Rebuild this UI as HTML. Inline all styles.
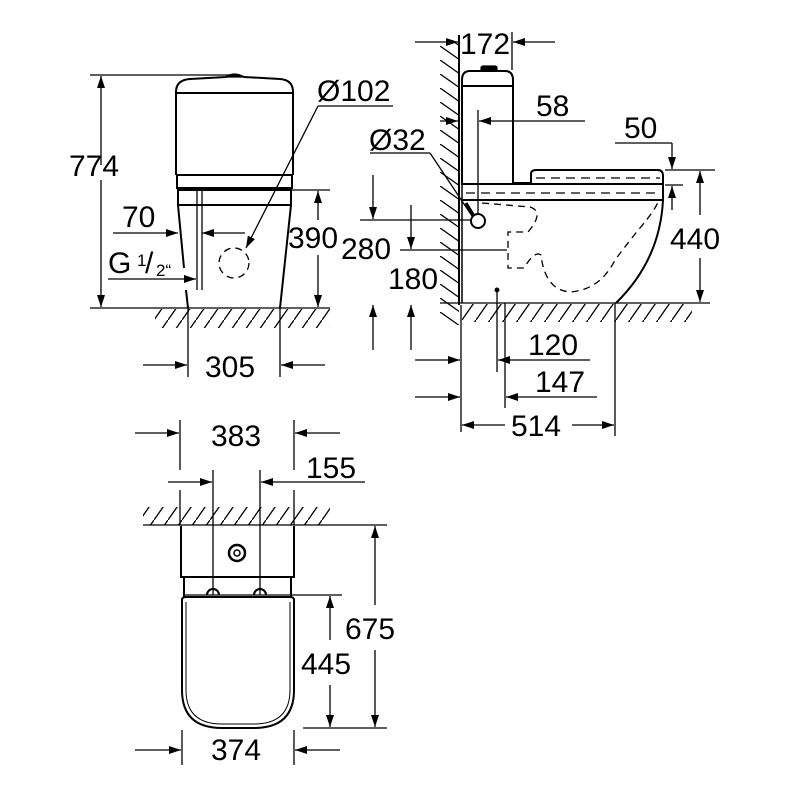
<!DOCTYPE html>
<html><head><meta charset="utf-8"><style>
html,body{margin:0;padding:0;background:#fff}
svg{display:block}
text{font-family:"Liberation Sans",sans-serif;font-size:30px;fill:#000}
</style></head><body>
<svg width="800" height="800" viewBox="0 0 800 800" xmlns="http://www.w3.org/2000/svg">
<defs>
<marker id="a" viewBox="0 0 12 8" refX="12" refY="4" markerWidth="12" markerHeight="8" markerUnits="userSpaceOnUse" orient="auto"><path d="M0,0L12,4L0,8z"/></marker>
<pattern id="h" width="14" height="20" patternUnits="userSpaceOnUse"><path d="M0,20L14,0" stroke="#000" stroke-width="1.3"/></pattern>
<pattern id="hv" width="20" height="14" patternUnits="userSpaceOnUse" patternTransform="translate(0,4)"><path d="M0,0L20,14" stroke="#000" stroke-width="1.3"/></pattern>
</defs>
<g fill="none" stroke="#000" stroke-width="1.3">
<!-- FRONT VIEW -->
<line x1="90" y1="75" x2="240" y2="75"/>
<line x1="101" y1="165" x2="101" y2="76" marker-end="url(#a)"/>
<line x1="101" y1="180" x2="101" y2="307" marker-end="url(#a)"/>
<line x1="90" y1="308" x2="330" y2="308"/>
<rect x="155" y="309" width="175" height="19" fill="url(#h)" stroke="none"/>
<path d="M176,175 L176,92 Q176,80 190,79 L226,77 Q234,73 244,77 L280,79 Q293,80 293,92 L293,175" stroke-width="2"/>
<line x1="176" y1="93" x2="293" y2="93" stroke-width="2"/>
<path d="M226,77 Q234,71 244,77z" fill="#000"/>
<rect x="177" y="175" width="115" height="13" stroke-width="2"/>
<rect x="178" y="190" width="113" height="15" stroke-width="2"/>
<path d="M178,205 L184,268 M186,290 L188,308" stroke-width="2"/>
<path d="M291,205 L280,308" stroke-width="2"/>
<line x1="197" y1="191" x2="197" y2="290"/><line x1="202" y1="191" x2="202" y2="290"/>
<circle cx="234" cy="263" r="15" stroke-dasharray="7,5"/>
<line x1="318" y1="106" x2="393" y2="106"/>
<line x1="318" y1="106" x2="246" y2="248" marker-end="url(#a)"/>
<line x1="113" y1="233" x2="178" y2="233" marker-end="url(#a)"/>
<line x1="245" y1="233" x2="202" y2="233" marker-end="url(#a)"/>
<line x1="108" y1="279" x2="196" y2="279" marker-end="url(#a)"/>
<line x1="292" y1="190" x2="330" y2="190"/>
<line x1="318" y1="220" x2="318" y2="191" marker-end="url(#a)"/>
<line x1="318" y1="255" x2="318" y2="307" marker-end="url(#a)"/>
<line x1="188" y1="308" x2="188" y2="377"/><line x1="280" y1="308" x2="280" y2="377"/>
<line x1="143" y1="365" x2="187" y2="365" marker-end="url(#a)"/>
<line x1="325" y1="365" x2="281" y2="365" marker-end="url(#a)"/>
<!-- SIDE VIEW -->
<rect x="440" y="40" width="19" height="285" fill="url(#hv)" stroke="none"/>
<line x1="459" y1="35" x2="459" y2="305" stroke-width="2"/>
<line x1="462" y1="85" x2="462" y2="303" stroke-width="1.5"/>
<path d="M462,185 L462,80 Q462,71 470,71 L505,71 Q513,71 513,80 L513,183" stroke-width="2"/>
<line x1="462" y1="86" x2="513" y2="86" stroke-width="2"/>
<rect x="481" y="66" width="16" height="5" rx="2" fill="#000"/>
<path d="M513,183 L531,183 L531,174 Q531,170 536,170 L658,170 Q663,170 663,176 L663,183" stroke-width="2"/>
<path d="M462,184 L663,184 L663,200 L462,200" stroke-width="2"/>
<path d="M663,200 Q660,260 616,303" stroke-width="2"/>
<line x1="536" y1="178" x2="660" y2="178" stroke-dasharray="9,6"/>
<line x1="466" y1="193" x2="660" y2="193" stroke-dasharray="9,6"/>
<path d="M482,203 L530,207 Q545,212 528,232 L508,232 L508,268 L524,268 Q535,250 541,255 Q545,290 570,292 Q600,290 615,260 Q630,240 640,228 Q655,210 658,202" stroke-dasharray="7,5"/>
<circle cx="478" cy="221" r="7" stroke-width="2"/>
<line x1="466" y1="203" x2="474" y2="216" stroke-width="3"/>
<line x1="440" y1="303" x2="710" y2="303"/>
<rect x="462" y="304" width="230" height="18" fill="url(#h)" stroke="none"/>
<line x1="512" y1="32" x2="512" y2="70"/>
<line x1="415" y1="42" x2="458" y2="42" marker-end="url(#a)"/>
<line x1="555" y1="42" x2="513" y2="42" marker-end="url(#a)"/>
<line x1="440" y1="121" x2="458" y2="121" marker-end="url(#a)"/>
<line x1="478" y1="110" x2="478" y2="214"/>
<line x1="585" y1="121" x2="479" y2="121" marker-end="url(#a)"/>
<line x1="615" y1="143" x2="672" y2="143"/>
<line x1="672" y1="143" x2="672" y2="169" marker-end="url(#a)"/>
<line x1="665" y1="170" x2="715" y2="170"/>
<line x1="665" y1="185" x2="683" y2="185"/>
<line x1="672" y1="210" x2="672" y2="186" marker-end="url(#a)"/>
<line x1="700" y1="215" x2="700" y2="171" marker-end="url(#a)"/>
<line x1="700" y1="258" x2="700" y2="302" marker-end="url(#a)"/>
<line x1="370" y1="153" x2="430" y2="153"/>
<line x1="430" y1="153" x2="472" y2="216"/>
<line x1="373" y1="175" x2="373" y2="219" marker-end="url(#a)"/>
<line x1="360" y1="220" x2="472" y2="220"/>
<line x1="411" y1="205" x2="411" y2="249" marker-end="url(#a)"/>
<line x1="400" y1="250" x2="507" y2="250"/>
<line x1="373" y1="350" x2="373" y2="305" marker-end="url(#a)"/>
<line x1="411" y1="350" x2="411" y2="305" marker-end="url(#a)"/>
<line x1="461" y1="305" x2="461" y2="432"/>
<line x1="497" y1="292" x2="497" y2="372"/>
<circle cx="497" cy="290" r="1.8" fill="#000"/>
<line x1="505" y1="303" x2="505" y2="408"/>
<line x1="615" y1="303" x2="615" y2="436"/>
<line x1="415" y1="360" x2="460" y2="360" marker-end="url(#a)"/>
<line x1="590" y1="360" x2="498" y2="360" marker-end="url(#a)"/>
<line x1="415" y1="397" x2="460" y2="397" marker-end="url(#a)"/>
<line x1="597" y1="397" x2="506" y2="397" marker-end="url(#a)"/>
<line x1="505" y1="425" x2="462" y2="425" marker-end="url(#a)"/>
<line x1="572" y1="425" x2="614" y2="425" marker-end="url(#a)"/>
<!-- TOP VIEW -->
<line x1="180" y1="420" x2="180" y2="470"/><line x1="294" y1="420" x2="294" y2="470"/>
<line x1="135" y1="433" x2="179" y2="433" marker-end="url(#a)"/>
<line x1="340" y1="433" x2="295" y2="433" marker-end="url(#a)"/>
<line x1="213" y1="470" x2="213" y2="595"/><line x1="260" y1="470" x2="260" y2="595"/>
<line x1="168" y1="482" x2="212" y2="482" marker-end="url(#a)"/>
<line x1="365" y1="482" x2="261" y2="482" marker-end="url(#a)"/>
<line x1="180" y1="490" x2="180" y2="525"/><line x1="294" y1="490" x2="294" y2="525"/>
<rect x="143" y="507" width="187" height="18" fill="url(#h)" stroke="none"/>
<line x1="143" y1="525" x2="387" y2="525"/>
<path d="M181,526 L181,577 L294,577 L294,526" stroke-width="2"/>
<circle cx="237" cy="553" r="8" stroke-width="2.5"/><circle cx="237" cy="553" r="3" stroke-width="1.5"/>
<line x1="184" y1="577" x2="184" y2="597" stroke-width="2"/><line x1="291" y1="577" x2="291" y2="597" stroke-width="2"/>
<line x1="184" y1="595" x2="342" y2="595"/>
<path d="M207,595 A6,6 0 0 1 219,595 M254,595 A6,6 0 0 1 266,595" stroke-width="2"/>
<path d="M182,600 L182,690 Q182,728 222,728 L254,728 Q294,728 294,690 L294,600 Q294,597 290,597 L186,597 Q182,597 182,600z" stroke-width="2"/>
<path d="M186,602 L186,690 Q186,724 222,724 L254,724 Q290,724 290,690 L290,602" stroke-width="1"/>
<line x1="303" y1="728" x2="387" y2="728"/>
<line x1="330" y1="640" x2="330" y2="596" marker-end="url(#a)"/>
<line x1="330" y1="685" x2="330" y2="727" marker-end="url(#a)"/>
<line x1="375" y1="605" x2="375" y2="526" marker-end="url(#a)"/>
<line x1="375" y1="650" x2="375" y2="727" marker-end="url(#a)"/>
<line x1="182" y1="730" x2="182" y2="765"/><line x1="294" y1="730" x2="294" y2="765"/>
<line x1="135" y1="750" x2="181" y2="750" marker-end="url(#a)"/>
<line x1="340" y1="750" x2="295" y2="750" marker-end="url(#a)"/>
</g>
<g>
<text x="69" y="176">774</text>
<text x="317" y="101">Ø102</text>
<text x="122" y="227">70</text>
<text x="108" y="273">G</text><text x="137" y="266" style="font-size:17px">1</text><text x="145" y="273">/</text><text x="156" y="276" style="font-size:17px">2“</text>
<text x="288" y="248">390</text>
<text x="205" y="377">305</text>
<text x="460" y="54">172</text>
<text x="536" y="116">58</text>
<text x="624" y="138">50</text>
<text x="369" y="150">Ø32</text>
<text x="341" y="259">280</text>
<text x="388" y="289">180</text>
<text x="670" y="249">440</text>
<text x="528" y="355">120</text>
<text x="535" y="392">147</text>
<text x="511" y="436">514</text>
<text x="211" y="446">383</text>
<text x="306" y="478">155</text>
<text x="345" y="639">675</text>
<text x="301" y="674">445</text>
<text x="211" y="760">374</text>
</g>
</svg>
</body></html>
